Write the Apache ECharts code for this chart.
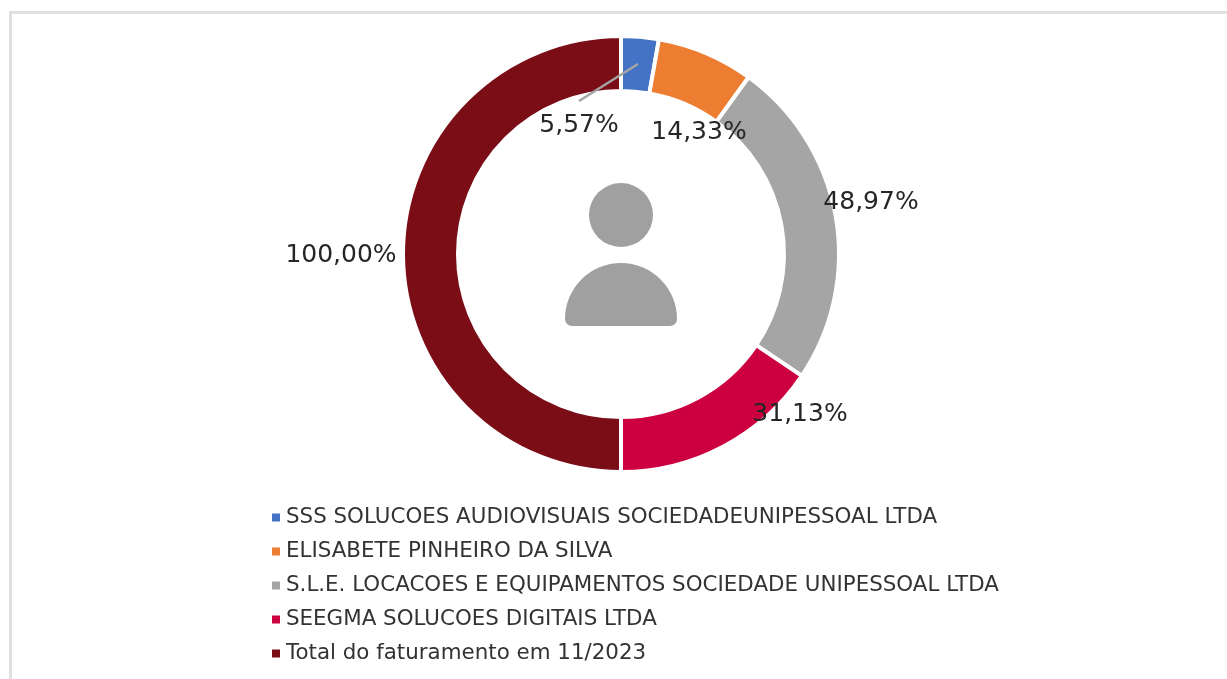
<!DOCTYPE html>
<html>
<head>
<meta charset="utf-8">
<style>
  html, body { margin: 0; padding: 0; background: #fff; overflow: hidden; }
  #main { width: 1227px; height: 679px; }
  #frame { position: absolute; left: 9px; top: 11px; width: 1218px; height: 668px;
    border-left: 3px solid #e0e0e0; border-top: 3px solid #e0e0e0; box-sizing: border-box; pointer-events: none; }
</style>
<script src="https://cdn.jsdelivr.net/npm/echarts@6/dist/echarts.min.js"></script>
</head>
<body>
<div id="main"></div>
<div id="frame"></div>
<script>
  var names = [
    'SSS SOLUCOES AUDIOVISUAIS SOCIEDADEUNIPESSOAL LTDA',
    'ELISABETE PINHEIRO DA SILVA',
    'S.L.E. LOCACOES E EQUIPAMENTOS SOCIEDADE UNIPESSOAL LTDA',
    'SEEGMA SOLUCOES DIGITAIS LTDA',
    'Total do faturamento em 11/2023'
  ];
  var values = [5.57, 14.33, 48.97, 31.13, 100.00];
  var colors = ['#4472c4', '#ed7d31', '#a5a5a5', '#cc0040', '#7b0d17'];

  // centre of each percent label, the source places them by hand
  var labelSpots = [[579, 125], [699, 132], [871, 202], [800, 414], [341, 255]];

  var myChart = echarts.init(document.getElementById('main'));
  var fontName = '"DejaVu Sans", sans-serif';

  var option = {
    animation: false,
    color: colors,
    legend: {
      orient: 'vertical',
      left: 267,
      top: 502,
      itemWidth: 8,
      itemHeight: 8,
      itemGap: 13,
      icon: 'rect',
      selectedMode: false,
      itemStyle: { borderWidth: 0 },
      textStyle: {
        fontFamily: fontName,
        fontSize: 21.4,
        lineHeight: 20,
        color: '#333333',
        padding: [0, 0, 0, 1]
      }
    },
    series: [
      {
        type: 'pie',
        center: [621, 254],
        radius: [163, 218],
        startAngle: 90,
        clockwise: true,
        silent: true,
        itemStyle: {
          borderColor: '#ffffff',
          borderWidth: 4
        },
        label: {
          show: true,
          position: 'outside',
          fontFamily: fontName,
          fontSize: 25,
          color: '#262626',
          formatter: function (p) {
            return p.value.toFixed(2).replace('.', ',') + '%';
          }
        },
        labelLine: { show: false },
        labelLayout: function (p) {
          var spot = labelSpots[p.dataIndex];
          return { x: spot[0], y: spot[1], align: 'center', verticalAlign: 'middle' };
        },
        data: names.map(function (n, i) {
          return { name: n, value: values[i] };
        })
      }
    ],
    graphic: [
      // leader line of the first label
      {
        type: 'line', z: 10,
        shape: { x1: 638, y1: 64, x2: 579, y2: 101 },
        style: { stroke: '#a5a5a5', lineWidth: 2.5 }
      },
      // person icon in the hole
      {
        type: 'circle', z: 5,
        shape: { cx: 621, cy: 215, r: 32 },
        style: { fill: '#a0a0a0' }
      },
      {
        type: 'rect', z: 5,
        shape: { x: 565, y: 263, width: 112, height: 63, r: [56, 56, 7, 7] },
        style: { fill: '#a0a0a0' }
      }
    ]
  };

  myChart.setOption(option);
</script>
</body>
</html>
